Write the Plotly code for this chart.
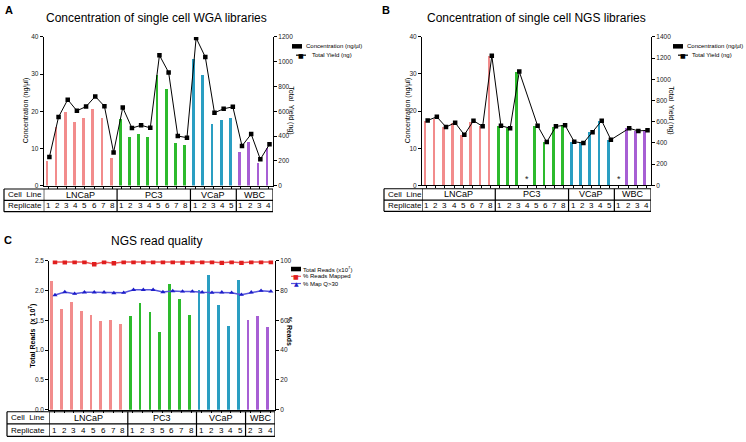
import plotly.graph_objects as go

W, H = 746, 442
FONT = "Liberation Sans, Arial, sans-serif"
NARROW = "Liberation Sans Narrow, Arial Narrow, Liberation Sans, sans-serif"

# ---------------- data ----------------
cell_lines = ["LNCaP", "PC3", "VCaP", "WBC"]
group_colors = ["#F28C8C", "#2DBA2D", "#2A9EC2", "#A75FD4"]

a_replicates = [[1, 2, 3, 4, 5, 6, 7, 8], [1, 2, 3, 4, 5, 6, 7, 8], [1, 2, 3, 4, 5], [1, 2, 3, 4]]
a_conc = [6.6, 15.7, 19.7, 17.2, 18.3, 20.6, 18.3, 7.5,
          17.9, 13.2, 14.0, 13.2, 29.8, 26.1, 11.4, 11.0,
          34.1, 29.7, 16.7, 17.7, 18.2,
          9.1, 11.8, 6.1, 10.2]
a_yield = [230, 554, 694, 604, 638, 720, 641, 268,
           630, 464, 487, 466, 1052, 914, 400, 387,
           1192, 1038, 588, 620, 636,
           320, 416, 212, 334]

b_replicates = [[1, 2, 3, 4, 5, 6, 7, 8], [1, 2, 3, 4, 5, 6, 7, 8], [1, 2, 3, 4, 5], [1, 2, 3, 4]]
b_conc = [17.5, 17.9, 15.7, 16.8, 13.6, 17.2, 16.1, 34.9,
          16.1, 15.4, 30.6, None, 16.1, 11.7, 15.9, 16.2,
          11.7, 11.4, 14.3, 17.3, 12.3,
          None, 15.4, 14.7, 14.8]
b_yield = [612, 646, 550, 590, 476, 609, 556, 1221,
           562, 538, 1072, None, 562, 408, 556, 566,
           411, 399, 501, 609, 430,
           None, 538, 513, 519]

c_replicates = [[1, 2, 3, 4, 5, 6, 7, 8], [1, 2, 3, 5, 6, 7, 8], [1, 2, 3, 4, 5], [2, 3, 4]]
c_reads = [2.16, 1.69, 1.81, 1.66, 1.59, 1.50, 1.51, 1.45,
           1.58, 1.80, 1.65, 1.31, 2.11, 1.86, 1.60,
           2.02, 2.27, 1.76, 1.41, 2.19,
           1.51, 1.58, 1.40]
c_mapped = [99.1, 98.9, 99.1, 99.1, 97.6, 99.1, 98.2, 99.1,
            99.1, 99.1, 99.1, 99.1, 99.1, 98.7, 99.1,
            99.1, 99.1, 98.5, 99.1, 98.5,
            99.1, 99.1, 99.1]
c_q30 = [76.9, 78.9, 77.8, 78.7, 78.7, 78.7, 78.2, 78.5,
         80.4, 80.4, 80.4, 78.9, 79.6, 79.3, 79.3,
         78.7, 78.5, 78.7, 78.5, 77.1,
         78.7, 79.8, 79.3]


def X(px):
    return px / W


def Y(py):
    return 1 - py / H


def slots_and_colors(reps):
    n = sum(len(r) for r in reps)
    cols = []
    for g, r in enumerate(reps):
        cols += [group_colors[g]] * len(r)
    return list(range(1, n + 1)), cols


fig = go.Figure()
shapes = []
annotations = []


def txt(x, y, s, size, xref="paper", yref="paper", xanchor="center", angle=0, bold=False,
        color="#000000", family=FONT):
    annotations.append(dict(x=x, y=y, xref=xref, yref=yref, text=("<b>%s</b>" % s) if bold else s,
                            showarrow=False, xanchor=xanchor, yanchor="middle", textangle=angle,
                            borderpad=0, font=dict(family=family, size=size, color=color)))


def line(x0, y0, x1, y1, xref="paper", yref="paper", w=1.2):
    shapes.append(dict(type="line", x0=x0, y0=y0, x1=x1, y1=y1, xref=xref, yref=yref,
                       line=dict(color="black", width=w)))


def table(xref, reps, left, right, top, mid, bot):
    for yy in (top, mid, bot):
        line(X(left), Y(yy), X(right), Y(yy))
    line(X(left), Y(top), X(left), Y(bot))
    bounds = [0]
    for r in reps:
        bounds.append(bounds[-1] + len(r))
    for b in bounds:
        line(b + 0.5, Y(top), b + 0.5, Y(bot), xref=xref)
    txt(X(left + 3), Y((top + mid) / 2), "Cell  Line", 8, xanchor="left", family=NARROW)
    txt(X(left + 3), Y((mid + bot) / 2), "Replicate", 8, xanchor="left", family=NARROW)
    for g, r in enumerate(reps):
        s0 = bounds[g] + 1
        s1 = bounds[g + 1]
        txt((s0 + s1) / 2, Y((top + mid) / 2), cell_lines[g], 9, xref=xref, family=NARROW)
        for k, rep in enumerate(r):
            txt(s0 + k, Y((mid + bot) / 2), str(rep), 8, xref=xref, family=NARROW)


def xaxis_cfg(dom, n, anchor):
    return dict(domain=[X(dom[0]), X(dom[1])], range=[0.5, n + 0.5], anchor=anchor, showline=True,
                linecolor="black", linewidth=1, ticks="outside", ticklen=2, tickcolor="black",
                tickvals=list(range(1, n + 1)), showticklabels=False, showgrid=False, zeroline=False)


def yaxis_cfg(dom, rng, dtick, anchor, side="left", overlaying=None, fmt=None):
    d = dict(domain=[Y(dom[1]), Y(dom[0])], range=rng, dtick=dtick, tick0=0, anchor=anchor, side=side,
             showline=True, linecolor="black", linewidth=1, ticks="outside", ticklen=3, tickcolor="black",
             tickfont=dict(size=6.5, family=FONT, color="#222"), showgrid=False, zeroline=False)
    if overlaying:
        d["overlaying"] = overlaying
    if fmt:
        d["tickformat"] = fmt
    return d


# ---------------- Panel A ----------------
sA, cA = slots_and_colors(a_replicates)
fig.add_trace(go.Bar(x=sA, y=a_conc, width=0.3, offset=-0.33, marker=dict(color=cA, line=dict(width=0)),
                     xaxis="x", yaxis="y", showlegend=False, name="Concentration (ng/µl)"))
fig.add_trace(go.Scatter(x=[s + 0.12 for s in sA], y=a_yield, mode="lines+markers",
                         line=dict(color="black", width=1), marker=dict(symbol="square", size=4.5, color="black"),
                         xaxis="x", yaxis="y2", showlegend=False, name="Total Yield (ng)"))

# ---------------- Panel B ----------------
sB, cB = slots_and_colors(b_replicates)
fig.add_trace(go.Bar(x=sB, y=b_conc, width=0.3, offset=-0.33, marker=dict(color=cB, line=dict(width=0)),
                     xaxis="x2", yaxis="y3", showlegend=False, name="Concentration (ng/µl)"))
fig.add_trace(go.Scatter(x=[s + 0.12 for s in sB], y=b_yield, mode="lines+markers", connectgaps=True,
                         line=dict(color="black", width=1), marker=dict(symbol="square", size=4.5, color="black"),
                         xaxis="x2", yaxis="y4", showlegend=False, name="Total Yield (ng)"))
for s, v in zip(sB, b_conc):
    if v is None:
        annotations.append(dict(x=s, y=1.6, xref="x2", yref="y3", text="*", showarrow=False,
                                font=dict(family=FONT, size=9, color="#222")))

# ---------------- Panel C ----------------
sC, cC = slots_and_colors(c_replicates)
fig.add_trace(go.Bar(x=sC, y=c_reads, width=0.28, offset=-0.36, marker=dict(color=cC, line=dict(width=0)),
                     xaxis="x3", yaxis="y5", showlegend=False, name="Total Reads"))
fig.add_trace(go.Scatter(x=[s + 0.08 for s in sC], y=c_mapped, mode="lines+markers",
                         line=dict(color="#EE5555", width=1.5), marker=dict(symbol="square", size=4.5, color="#E01E1E"),
                         xaxis="x3", yaxis="y6", showlegend=False, name="% Reads Mapped"))
fig.add_trace(go.Scatter(x=[s + 0.08 for s in sC], y=c_q30, mode="lines+markers",
                         line=dict(color="#5555DD", width=1.5), marker=dict(symbol="triangle-up", size=4.5, color="#1E1EC8"),
                         xaxis="x3", yaxis="y6", showlegend=False, name="% Map Q>30"))

# ---------------- axes ----------------
A_x, A_y = (43.7, 273), (33.5, 184.5)
B_x, B_y = (422, 651), (33.3, 184.3)
C_x, C_y = (49.3, 275), (260.7, 412.3)

layout_axes = dict(
    xaxis=xaxis_cfg(A_x, len(sA), "y"),
    yaxis=yaxis_cfg(A_y, [0, 40], 10, "x"),
    yaxis2=yaxis_cfg(A_y, [0, 1200], 200, "x", side="right", overlaying="y"),
    xaxis2=xaxis_cfg(B_x, len(sB), "y3"),
    yaxis3=yaxis_cfg(B_y, [0, 40], 10, "x2"),
    yaxis4=yaxis_cfg(B_y, [0, 1400], 200, "x2", side="right", overlaying="y3"),
    xaxis3=xaxis_cfg(C_x, len(sC), "y5"),
    yaxis5=yaxis_cfg(C_y, [0, 2.5], 0.5, "x3", fmt=".1f"),
    yaxis6=yaxis_cfg(C_y, [0, 100], 20, "x3", side="right", overlaying="y5"),
)

# ---------------- tables ----------------
table("x", a_replicates, 4, A_x[1], 188, 199.5, 211)
table("x2", b_replicates, 384, B_x[1], 187.7, 199.3, 210.7)
table("x3", c_replicates, 7, C_x[1], 414.3, 426.7, 439.3)

# ---------------- titles / labels ----------------
txt(X(9), Y(6), "A", 11, bold=True)
txt(X(386), Y(6), "B", 11, bold=True)
txt(X(8), Y(240), "C", 11, bold=True)
txt(X(156), Y(14), "Concentration of single cell WGA libraries", 12)
txt(X(536), Y(14), "Concentration of single cell NGS libraries", 12)
txt(X(156), Y(241), "NGS read quality", 12)

txt(X(26), Y(108), "Concentration (ng/µl)", 7, angle=-90)
txt(X(291), Y(108), "Total  Yield (ng)", 7, angle=90)
txt(X(408), Y(108), "Concentration (ng/µl)", 7, angle=-90)
txt(X(671), Y(108), "Total  Yield (ng)", 7, angle=90)
txt(X(33), Y(337), "Total Reads  (x 10<sup>7</sup>)", 7, angle=-90, bold=True)
txt(X(289), Y(332), "% Reads", 7, angle=90, bold=True)


# ---------------- legends ----------------
def leg_bar(x, y, label, tx):
    shapes.append(dict(type="rect", x0=X(x), x1=X(x + 10), y0=Y(y - 2.3), y1=Y(y + 2.3), xref="paper",
                       yref="paper", fillcolor="black", line=dict(width=0)))
    txt(X(tx), Y(y), label, 6, xanchor="left")


def leg_line(x, y, label, tx, color, mcolor, symbol):
    shapes.append(dict(type="line", x0=X(x), x1=X(x + 10), y0=Y(y), y1=Y(y), xref="paper", yref="paper",
                       line=dict(color=color, width=1.2)))
    annotations.append(dict(x=X(x + 5), y=Y(y), xref="paper", yref="paper", text=symbol, showarrow=False,
                            borderpad=0, font=dict(size=6, color=mcolor, family="DejaVu Sans"),
                            xanchor="center", yanchor="middle"))
    txt(X(tx), Y(y), label, 6, xanchor="left")


leg_bar(292, 43, "Concentration (ng/µl)", 305)
leg_line(296, 52, "Total Yield (ng)", 311, "black", "black", "■")
leg_bar(673, 43, "Concentration (ng/µl)", 686)
leg_line(678, 52, "Total Yield (ng)", 691, "black", "black", "■")
leg_bar(291, 269.3, "Total Reads (x10<sup>7</sup>)", 302)
leg_line(291, 276.7, "% Reads Mapped", 302, "#EE5555", "#E01E1E", "■")
leg_line(291, 284, "% Map Q>30", 302, "#5555DD", "#1E1EC8", "▲")

fig.update_layout(
    width=W, height=H, margin=dict(l=0, r=0, t=0, b=0),
    paper_bgcolor="white", plot_bgcolor="white",
    font=dict(family=FONT, size=8, color="#111"),
    showlegend=False, bargap=0,
    shapes=shapes, annotations=annotations,
    **layout_axes,
)

fig.write_html("out.html", config={"displayModeBar": False},
               post_script="document.body.style.margin='0px';")
